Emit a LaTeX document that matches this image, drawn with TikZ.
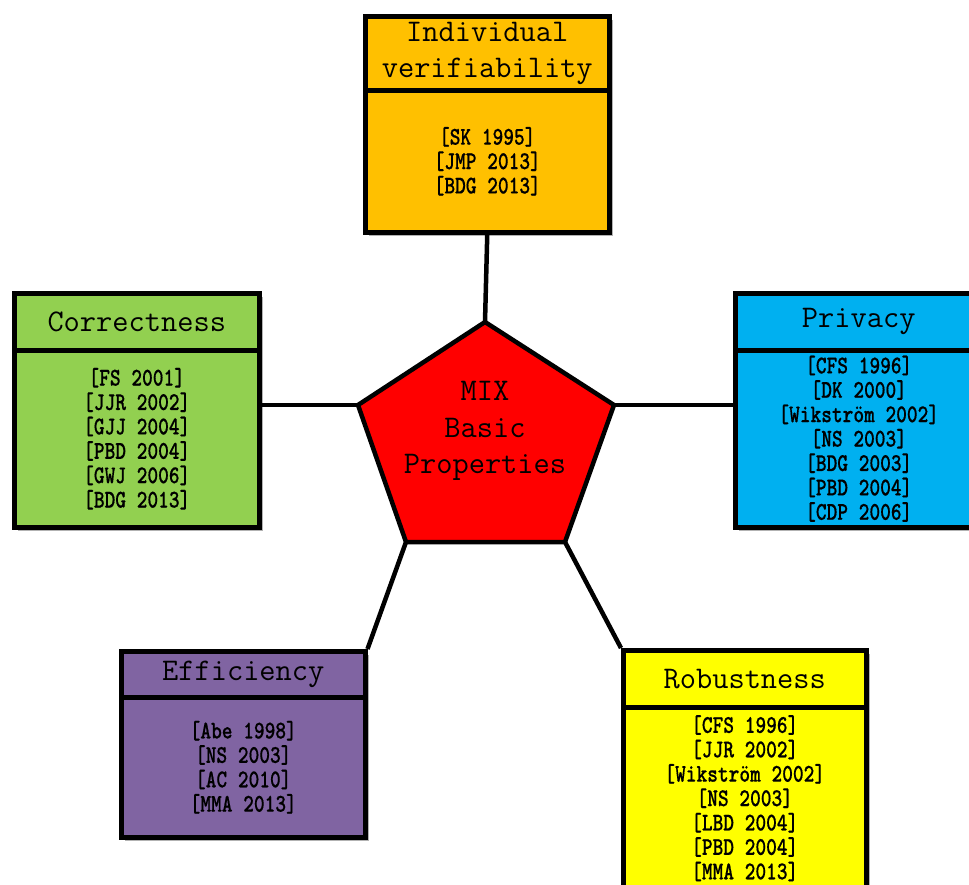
\documentclass[tikz,border=0pt]{standalone}
\usepackage{fontspec}
\usetikzlibrary{shadows,backgrounds}
\newfontfamily\tfont{Latin Modern Mono}
\newfontfamily\rfont{lmmonolt10-bold.otf}[FakeStretch=0.8,FakeBold=0.4]
\definecolor{cOrange}{HTML}{FFC000}
\definecolor{cGreen}{HTML}{92D050}
\definecolor{cCyan}{HTML}{00B0F0}
\definecolor{cPurple}{HTML}{8064A2}
\definecolor{cYellow}{HTML}{FFFF00}
\definecolor{cRed}{HTML}{FF0000}
\newcommand{\nl}{\\\relax}
\tikzset{
  boxbase/.style={draw=black, line width=4.5pt, rectangle, inner sep=0pt, anchor=north west, align=center,
    drop shadow={shadow xshift=4pt, shadow yshift=-4pt, opacity=0.3, fill=black}},
  hdr/.style={boxbase, font=\tfont\fontsize{31.5}{36}\selectfont},
  bdy/.style={boxbase, font=\rfont\fontsize{25.5}{24.4}\selectfont},
  conn/.style={draw=black, line width=4.5pt},
}
\begin{document}
\begin{tikzpicture}[x=1pt,y=-1pt]
\useasboundingbox (0,0) rectangle (969,884);
\clip (0,0) rectangle (969,884);
% pentagon corners
\coordinate (pT) at (485,322);
\coordinate (pL) at (358,405);
\coordinate (pR) at (614,405);
\coordinate (pBL) at (406,542);
\coordinate (pBR) at (565,542);
\filldraw[fill=cRed, draw=black, line width=4.5pt, line join=miter] (pT) -- (pR) -- (pBR) -- (pBL) -- (pL) -- cycle;
\node[font=\tfont\fontsize{31.5}{36.5}\selectfont, align=center] (mix) at (485,431) {MIX\\Basic\\Properties};
% Individual verifiability
\node[hdr, fill=cOrange, minimum width=244pt, minimum height=74pt] (ivh) at (363,14) {Individual\\verifiability};
\node[bdy, fill=cOrange, minimum width=244pt, minimum height=142pt] (ivb) at (363,88) {[SK 1995]\nl[JMP 2013]\nl[BDG 2013]};
% Correctness
\node[hdr, fill=cGreen, minimum width=245pt, minimum height=57pt] (coh) at (12,291) {Correctness};
\node[bdy, fill=cGreen, minimum width=245pt, minimum height=177pt] (cob) at (12,348) {[FS 2001]\nl[JJR 2002]\nl[GJJ 2004]\nl[PBD 2004]\nl[GWJ 2006]\nl[BDG 2013]};
% Privacy
\node[hdr, fill=cCyan, minimum width=247pt, minimum height=57pt] (prh) at (733,291) {Privacy};
\node[bdy, fill=cCyan, minimum width=247pt, minimum height=177pt] (prb) at (733,348) {[CFS 1996]\nl[DK 2000]\nl[Wikström 2002]\nl[NS 2003]\nl[BDG 2003]\nl[PBD 2004]\nl[CDP 2006]};
% Efficiency
\node[hdr, fill=cPurple, minimum width=244pt, minimum height=46pt] (efh) at (119,649) {Efficiency};
\node[bdy, fill=cPurple, minimum width=244pt, minimum height=140pt] (efb) at (119,695) {[Abe 1998]\nl[NS 2003]\nl[AC 2010]\nl[MMA 2013]};
% Robustness
\node[hdr, fill=cYellow, minimum width=243pt, minimum height=57pt] (roh) at (621,648) {Robustness};
\node[bdy, fill=cYellow, minimum width=243pt, minimum height=182pt] (rob) at (621,705) {[CFS 1996]\nl[JJR 2002]\nl[Wikström 2002]\nl[NS 2003]\nl[LBD 2004]\nl[PBD 2004]\nl[MMA 2013]};
% connectors
\begin{scope}[on background layer]
\draw[conn] (ivb.south) -- (pT);
\draw[conn] (pL -| cob.east) -- (pL);
\draw[conn] (pR) -- (pR -| prb.west);
\draw[conn] (pBL) -- (efh.north east);
\draw[conn] (pBR) -- (roh.north west);
\end{scope}
\end{tikzpicture}
\end{document}
